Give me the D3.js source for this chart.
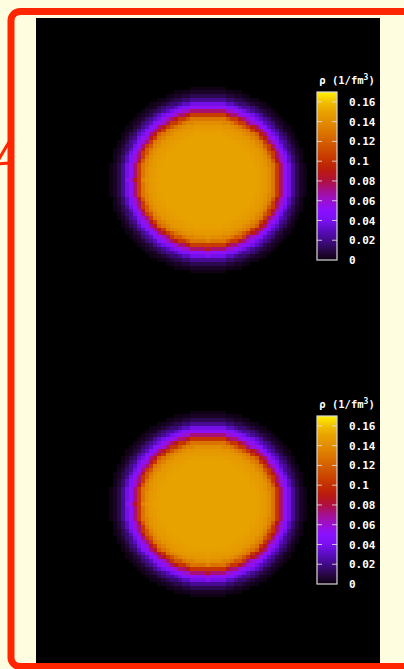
<!DOCTYPE html>
<html>
<head>
<meta charset="utf-8">
<script src="https://cdn.jsdelivr.net/npm/d3@7"></script>
<style>
  html, body { margin: 0; padding: 0; background: #fffde0; }
  svg { display: block; }
</style>
</head>
<body>
<script>
// radial density profile: value holds from each radius (fm) out to the next one
let profileRadius = [0, 4.8, 5.0, 5.2, 5.4, 5.6, 5.8, 6.0, 6.2, 6.4, 6.6, 6.8, 7.0, 7.2,
  7.4, 7.6, 7.8, 8.0, 8.2, 8.4, 8.6, 8.8, 9.0, 9.2, 9.4, 9.6, 9.8];
let densityTop = [0.150, 0.149, 0.148, 0.147, 0.146, 0.145, 0.143, 0.140, 0.136, 0.129,
  0.118, 0.104, 0.089, 0.074, 0.061, 0.052, 0.045, 0.038, 0.030, 0.022, 0.016, 0.011,
  0.007, 0.004, 0.002, 0.001, 0];
let densityBottom = [0.150, 0.149, 0.148, 0.147, 0.146, 0.145, 0.143, 0.140, 0.135, 0.128,
  0.116, 0.102, 0.087, 0.073, 0.060, 0.052, 0.045, 0.038, 0.030, 0.022, 0.016, 0.011,
  0.007, 0.004, 0.002, 0.001, 0];
// colour palette
let paletteStops = [0, 0.01, 0.02, 0.03, 0.04, 0.05, 0.06, 0.07, 0.08, 0.09,
  0.10, 0.11, 0.12, 0.13, 0.14, 0.15, 0.16, 0.17];
let paletteColors = ["#0d0010", "#2a0848", "#420a88", "#5a0cc0", "#7a10f0", "#8a10ff",
  "#9a10d0", "#a41090", "#b01040", "#b81a10", "#c43000", "#cc4800", "#d46000",
  "#dc7800", "#e28e00", "#e8a200", "#f2c000", "#fff200"];
let tickValues = [0, 0.02, 0.04, 0.06, 0.08, 0.10, 0.12, 0.14, 0.16];
let tickLabels = ["0", "0.02", "0.04", "0.06", "0.08", "0.1", "0.12", "0.14", "0.16"];
let domainFm = [-17, 17];
let cellFm = 0.4;

//#region layout
let W = 404, H = 669;
let plotLeft = 36, plotTop = 18, plotW = 344, panelH = 324;
let cbX = 317, cbW = 20, cbTop = 74, cbBottom = 242; // relative to panel top
let color = d3.scaleLinear().domain(paletteStops).range(paletteColors);
//#endregion

let svg = d3.select("body").append("svg")
  .attr("width", W).attr("height", H);

svg.append("rect").attr("width", W).attr("height", H).attr("fill", "#fffde0");
svg.append("rect")
  .attr("x", plotLeft).attr("y", plotTop)
  .attr("width", plotW).attr("height", 652)
  .attr("fill", "#000");

// gradient for the colour bars
let grad = svg.append("defs").append("linearGradient")
  .attr("id", "cb").attr("x1", 0).attr("y1", 1).attr("x2", 0).attr("y2", 0);
grad.selectAll("stop").data(paletteStops).join("stop")
  .attr("offset", d => d / 0.17)
  .attr("stop-color", (d, i) => paletteColors[i]);

function drawPanel(profile, top) {
  let g = svg.append("g").attr("transform", `translate(0, ${top})`);
  let xScale = d3.scaleLinear().domain(domainFm).range([plotLeft, plotLeft + plotW]);
  let yScale = d3.scaleLinear().domain(domainFm).range([panelH, 0]);

  // cells of the density map
  let cells = [];
  let n = Math.round((domainFm[1] - domainFm[0]) / cellFm);
  let rMax = profileRadius[profileRadius.length - 1];
  for (let i = 0; i < n; i++) {
    for (let j = 0; j < n; j++) {
      let x0 = domainFm[0] + i * cellFm, y0 = domainFm[0] + j * cellFm;
      let r = Math.hypot(x0 + cellFm / 2, y0 + cellFm / 2);
      if (r >= rMax) continue;
      let k = d3.bisectRight(profileRadius, r) - 1;
      cells.push({ x0, y0, v: profile[k] });
    }
  }
  let px = d => Math.round(xScale(d));
  let py = d => Math.round(yScale(d));
  g.append("g").attr("shape-rendering", "crispEdges")
    .selectAll("rect").data(cells).join("rect")
    .attr("x", d => px(d.x0))
    .attr("y", d => py(d.y0 + cellFm))
    .attr("width", d => px(d.x0 + cellFm) - px(d.x0))
    .attr("height", d => py(d.y0) - py(d.y0 + cellFm))
    .attr("fill", d => color(d.v));

  // colour bar
  let cbScale = d3.scaleLinear().domain([0, 0.17]).range([cbBottom, cbTop]);
  g.append("rect")
    .attr("x", cbX).attr("y", cbTop)
    .attr("width", cbW).attr("height", cbBottom - cbTop)
    .attr("fill", "url(#cb)")
    .attr("stroke", "#d8d8d8").attr("stroke-width", 1.2);
  let inner = tickValues.filter(d => d > 0);
  g.append("g").selectAll("line").data(inner).join("line")
    .attr("x1", cbX).attr("x2", cbX + 5)
    .attr("y1", d => cbScale(d)).attr("y2", d => cbScale(d))
    .attr("stroke", "#e8e8e8").attr("stroke-opacity", 0.8);
  g.append("g").selectAll("line").data(inner).join("line")
    .attr("x1", cbX + cbW - 5).attr("x2", cbX + cbW)
    .attr("y1", d => cbScale(d)).attr("y2", d => cbScale(d))
    .attr("stroke", "#e8e8e8").attr("stroke-opacity", 0.8);

  let axis = d3.axisRight(cbScale)
    .tickValues(tickValues)
    .tickFormat((d, i) => tickLabels[i])
    .tickSize(0).tickPadding(12);
  let axisG = g.append("g").attr("transform", `translate(${cbX + cbW}, 0)`).call(axis);
  axisG.select(".domain").remove();
  axisG.selectAll("text")
    .attr("fill", "#fff")
    .attr("font-family", "DejaVu Sans Mono")
    .attr("font-weight", "bold")
    .attr("font-size", 11);

  // colour bar title
  let title = g.append("text")
    .attr("x", 347).attr("y", 66)
    .attr("text-anchor", "middle")
    .attr("fill", "#fff")
    .attr("font-family", "DejaVu Sans Mono")
    .attr("font-weight", "bold")
    .attr("font-size", 10.5);
  title.append("tspan").text("ρ (1/fm");
  title.append("tspan").text("3").attr("dy", -4).attr("font-size", 8);
  title.append("tspan").text(")").attr("dy", 4);
}

drawPanel(densityTop, plotTop);
drawPanel(densityBottom, plotTop + panelH);

// frame and callout tail
svg.append("path")
  .attr("d", "M 9,142 L -4,164 L 9,163")
  .attr("fill", "#fffde0")
  .attr("stroke", "#ff2600").attr("stroke-width", 3);
svg.append("rect")
  .attr("x", 11).attr("y", 11.5)
  .attr("width", 500).attr("height", 655)
  .attr("rx", 9)
  .attr("fill", "none")
  .attr("stroke", "#ff2600").attr("stroke-width", 7);
</script>
</body>
</html>
